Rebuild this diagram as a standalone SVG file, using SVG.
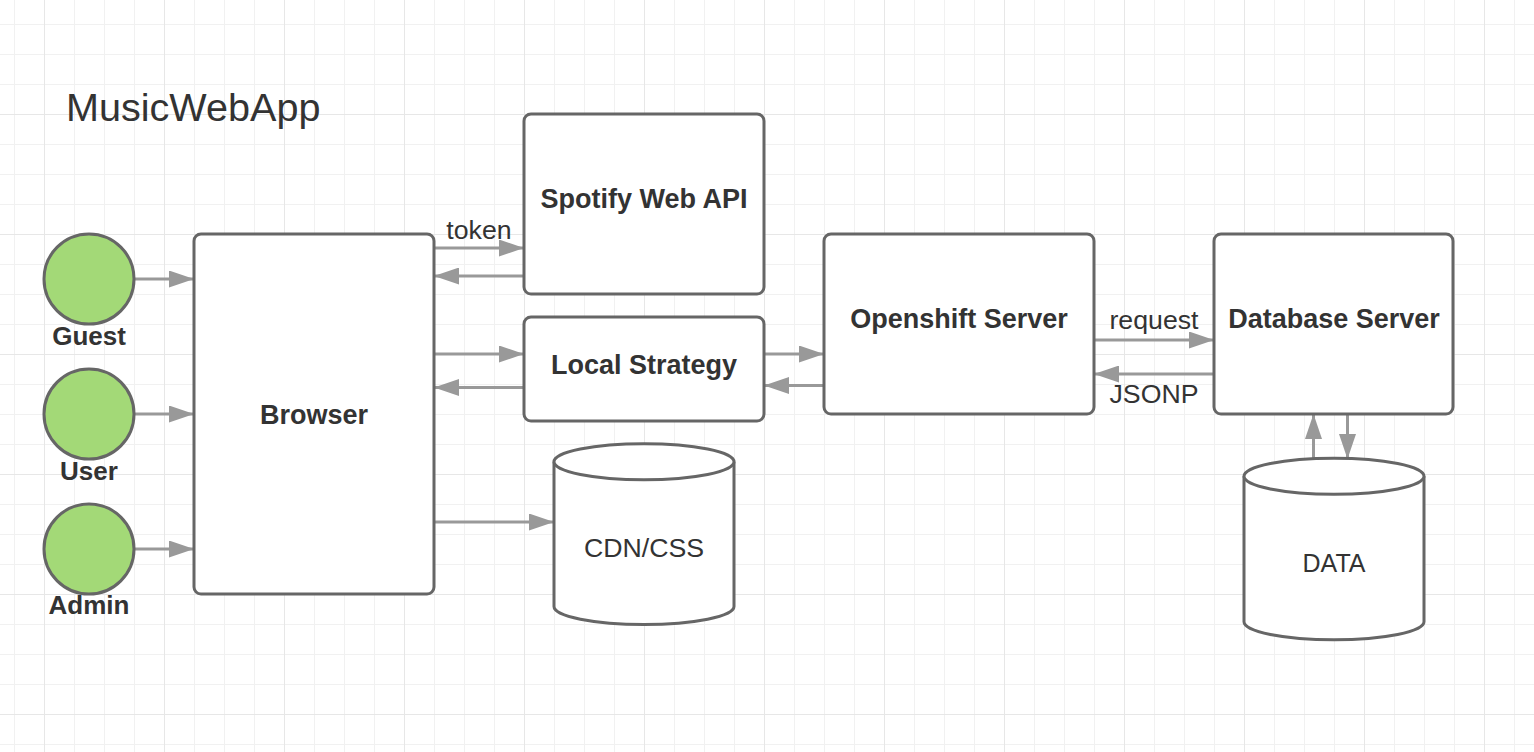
<svg xmlns="http://www.w3.org/2000/svg" width="1534" height="752" viewBox="0 0 1534 752">
  <defs>
    <pattern id="grid" patternUnits="userSpaceOnUse" x="44" y="114" width="120" height="120">
      <path d="M30.5,0V120M60.5,0V120M90.5,0V120M0,30.5H120M0,60.5H120M0,90.5H120" stroke="#f1f1f1" stroke-width="1" fill="none"/>
      <path d="M0.5,0V120M0,0.5H120" stroke="#e7e7e7" stroke-width="1" fill="none"/>
    </pattern>
    <marker id="arr" markerUnits="userSpaceOnUse" markerWidth="25" markerHeight="17" refX="25" refY="8.5" orient="auto" viewBox="0 0 25 17">
      <path d="M0,0L25,8.5L0,17z" fill="#999999"/>
    </marker>
    <style>
      .box{fill:#ffffff;stroke:#666666;stroke-width:3}
      .actor{fill:#a3d977;stroke:#666666;stroke-width:3}
      .bold{font-family:"Liberation Sans",Arial,sans-serif;font-weight:bold;font-size:27px;fill:#333333;text-anchor:middle}
      .actor-label{font-size:26px}
      .reg{font-family:"Liberation Sans",Arial,sans-serif;font-size:26.7px;fill:#333333;text-anchor:middle}
      .conn line{stroke:#999999;stroke-width:3;marker-end:url(#arr)}
    </style>
  </defs>
  <rect x="0" y="0" width="1534" height="752" fill="#ffffff"/>
  <rect x="0" y="0" width="1534" height="752" fill="url(#grid)"/>

  <text x="66" y="121" font-family="Liberation Sans, Arial, sans-serif" font-size="39.6" fill="#333333">MusicWebApp</text>

  <g class="conn" id="connectors">
    <line x1="134" y1="279" x2="194" y2="279"/>
    <line x1="134" y1="414" x2="194" y2="414"/>
    <line x1="134" y1="549" x2="194" y2="549"/>
    <line x1="434" y1="248" x2="524" y2="248"/>
    <line x1="524" y1="276" x2="434" y2="276"/>
    <line x1="434" y1="354" x2="524" y2="354"/>
    <line x1="524" y1="387.5" x2="434" y2="387.5"/>
    <line x1="434" y1="522" x2="554" y2="522"/>
    <line x1="764" y1="354" x2="824" y2="354"/>
    <line x1="824" y1="385.5" x2="764" y2="385.5"/>
    <line x1="1094" y1="340" x2="1214" y2="340"/>
    <line x1="1214" y1="374" x2="1094" y2="374"/>
    <line x1="1313.5" y1="460" x2="1313.5" y2="414"/>
    <line x1="1347.5" y1="414" x2="1347.5" y2="459"/>
  </g>
  <g id="connector-labels">
    <text class="reg" x="479" y="239">token</text>
    <text class="reg" x="1154" y="329">request</text>
    <text class="reg" x="1154" y="403">JSONP</text>
  </g>

  <g id="guest">
    <circle class="actor" cx="89" cy="279" r="45"/>
    <text class="bold actor-label" x="89" y="345">Guest</text>
  </g>
  <g id="user">
    <circle class="actor" cx="89" cy="414" r="45"/>
    <text class="bold actor-label" x="89" y="480">User</text>
  </g>
  <g id="admin">
    <circle class="actor" cx="89" cy="549" r="45"/>
    <text class="bold actor-label" x="89" y="614">Admin</text>
  </g>

  <g id="browser">
    <rect class="box" x="194" y="234" width="240" height="360" rx="7"/>
    <text class="bold" x="314" y="424">Browser</text>
  </g>
  <g id="spotify">
    <rect class="box" x="524" y="114" width="240" height="180" rx="7"/>
    <text class="bold" x="644" y="208">Spotify Web API</text>
  </g>
  <g id="local-strategy">
    <rect class="box" x="524" y="317" width="240" height="104" rx="7"/>
    <text class="bold" x="644" y="374">Local Strategy</text>
  </g>
  <g id="openshift">
    <rect class="box" x="824" y="234" width="270" height="180" rx="7"/>
    <text class="bold" x="959" y="328">Openshift Server</text>
  </g>
  <g id="database-server">
    <rect class="box" x="1214" y="234" width="239" height="180" rx="7"/>
    <text class="bold" x="1334" y="328">Database Server</text>
  </g>
  <g id="cdn-css">
    <path class="box" d="M554,461.7V606.5A90,18 0 0 0 734,606.5V461.7"/>
    <ellipse class="box" cx="644" cy="461.7" rx="90" ry="18"/>
    <text class="reg" x="644" y="557">CDN/CSS</text>
  </g>
  <g id="data">
    <path class="box" d="M1244,476.3V621.7A90,18 0 0 0 1424,621.7V476.3"/>
    <ellipse class="box" cx="1334" cy="476.3" rx="90" ry="18"/>
    <text class="reg" x="1334" y="572" style="font-size:25px">DATA</text>
  </g>
</svg>
